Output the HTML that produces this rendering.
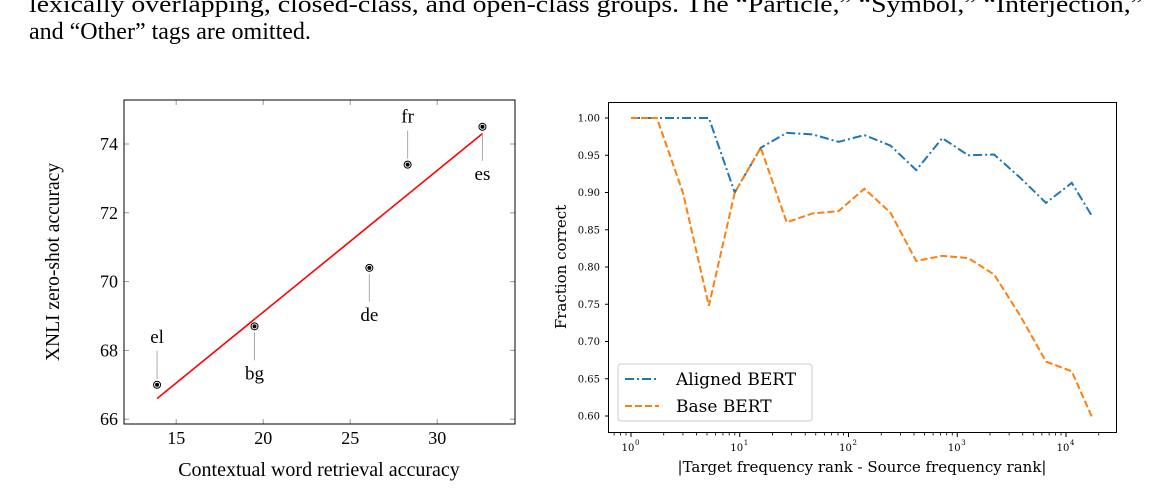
<!DOCTYPE html>
<html><head><meta charset="utf-8"><style>
body{margin:0;background:#fff;width:1149px;height:500px;overflow:hidden}
svg{display:block}
.serif{font-family:"Liberation Serif",serif}
.dv{font-family:"DejaVu Serif",serif}
</style></head><body>
<svg id="s" width="1149" height="500" xmlns="http://www.w3.org/2000/svg">
<text class="serif" x="29" y="12" font-size="24" textLength="1114" lengthAdjust="spacingAndGlyphs">lexically overlapping, closed-class, and open-class groups. The “Particle,” “Symbol,” “Interjection,”</text>
<text class="serif" x="29" y="39" font-size="24">and “Other” tags are omitted.</text>
<g id="left"></g>
<g id="right"></g>
</svg>
<script>
// Left chart data
const langs=['el','bg','de','fr','es'];
const retrieval=[13.9,19.5,26.1,28.3,32.6];
const xnli=[67.0,68.7,70.4,73.4,74.5];
const labelAbove=[true,false,false,true,false];
const fitX=[13.9,32.6];
const fitY=[66.6,74.3];
const leftXTicks=[15,20,25,30];
const leftYTicks=[66,68,70,72,74];
// Right chart data
const ranks=[1,1.73,3,5.2,9,15.6,27,46.8,81,140,243,420,728,1260,2180,3780,6550,11300,17400];
const aligned=[1.0,1.0,1.0,1.0,0.90,0.96,0.98,0.978,0.968,0.977,0.963,0.93,0.973,0.95,0.951,0.92,0.886,0.913,0.868];
const base=[1.0,1.0,0.90,0.748,0.90,0.96,0.86,0.872,0.875,0.905,0.873,0.808,0.815,0.812,0.79,0.735,0.673,0.66,0.598];
const rightYTicks=[0.60,0.65,0.70,0.75,0.80,0.85,0.90,0.95,1.00];
const rightXTicks=[0,1,2,3,4];

const NS='http://www.w3.org/2000/svg';
function mk(p,t,a,txt){const e=document.createElementNS(NS,t);for(const k in a)e.setAttribute(k,a[k]);if(txt!=null)e.textContent=txt;p.appendChild(e);return e;}

// LEFT
const L=document.getElementById('left');
const lx=v=>124+(v-12)*17.4, ly=v=>144+(74-v)*34.4;
leftXTicks.forEach(t=>{
 const g=mk(L,'line',{x1:lx(t),x2:lx(t),y1:100,y2:105,stroke:'#999'});
 
 mk(L,'line',{x1:lx(t),x2:lx(t),y1:424,y2:419,stroke:'#999'});
 const tx=mk(L,'text',{x:lx(t),y:444,'text-anchor':'middle','font-size':18,class:'serif'},t);
 
});
leftYTicks.forEach(t=>{
 mk(L,'line',{x1:124,x2:129,y1:ly(t),y2:ly(t),stroke:'#999'});
 mk(L,'line',{x1:515,x2:510,y1:ly(t),y2:ly(t),stroke:'#999'});
 const tx=mk(L,'text',{x:118,y:ly(t)+6,'text-anchor':'end','font-size':18,class:'serif'},t);
 
});
const fl=mk(L,'line',{x1:lx(fitX[0]),y1:ly(fitY[0]),x2:lx(fitX[1]),y2:ly(fitY[1]),stroke:'#f00','stroke-width':1.6});

langs.forEach((n,i)=>{
 const x=lx(retrieval[i]),y=ly(xnli[i]);
 const up=labelAbove[i];
 mk(L,'line',{x1:x,x2:x,y1:up?y-34:y+6,y2:up?y-6:y+34,stroke:'#aaa','stroke-width':1});
 const c=mk(L,'circle',{cx:x,cy:y,r:3.5,fill:'#fff',stroke:'#000','stroke-width':1});
 
 mk(L,'circle',{cx:x,cy:y,r:2,fill:'#000'});
 const t=mk(L,'text',{x:x,y:up?y-42:y+53,'text-anchor':'middle','font-size':19,class:'serif'},n);
 
});
mk(L,'rect',{x:124,y:100,width:391,height:324,fill:'none',stroke:'#000','stroke-width':1});
let t=mk(L,'text',{x:319,y:476,'text-anchor':'middle','font-size':20,class:'serif'},'Contextual word retrieval accuracy');

t=mk(L,'text',{x:0,y:0,'text-anchor':'middle','font-size':19.5,class:'serif',transform:'translate(59,262) rotate(-90)'},'XNLI zero-shot accuracy');


// RIGHT
const R=document.getElementById('right');
const rx=v=>631+Math.log10(v)*108.75, ry=v=>118+(1-v)*745;
rightYTicks.forEach(v=>{
 mk(R,'line',{x1:605,x2:609,y1:ry(v),y2:ry(v),stroke:'#000'});
 const tx=mk(R,'text',{x:600,y:ry(v)+3.5,'text-anchor':'end','font-size':10,class:'dv'},v.toFixed(2));
 
});
rightXTicks.forEach(d=>{
 const x=rx(Math.pow(10,d));
 mk(R,'line',{x1:x,x2:x,y1:433,y2:437,stroke:'#000'});
 const tx=mk(R,'text',{x:x-3,y:451,'text-anchor':'middle','font-size':10,class:'dv'},'10');
 
 mk(R,'text',{x:x+4,y:445,'font-size':7,class:'dv'},String(d));
});
for(let d=-1;d<5;d++)for(let m=2;m<10;m++){const x=rx(m*Math.pow(10,d));if(x>609&&x<1117)mk(R,'line',{x1:x,x2:x,y1:433,y2:435.5,stroke:'#000','stroke-width':0.8});}
function series(vals,col,dash,name){
 const p=mk(R,'polyline',{points:ranks.map((r,i)=>rx(r)+','+ry(vals[i])).join(' '),fill:'none',stroke:col,'stroke-width':2,'stroke-dasharray':dash});
 
}
series(aligned,'#1f77b4','9 3 2 3','aligned-bert-line');
series(base,'#ff7f0e','7 3','base-bert-line');
mk(R,'rect',{x:608.5,y:102.5,width:508,height:330,fill:'none',stroke:'#000','stroke-width':1});
const lg=mk(R,'g',{});

mk(lg,'rect',{x:618,y:364,width:194,height:57,rx:3,fill:'#fff','fill-opacity':0.8,stroke:'#ccc'});
mk(lg,'line',{x1:625,x2:659,y1:379,y2:379,stroke:'#1f77b4','stroke-width':2,'stroke-dasharray':'9 3 2 3'});
mk(lg,'line',{x1:625,x2:659,y1:406,y2:406,stroke:'#ff7f0e','stroke-width':2,'stroke-dasharray':'7 3'});
t=mk(lg,'text',{x:676,y:385,'font-size':17,class:'dv'},'Aligned BERT');

t=mk(lg,'text',{x:676,y:412,'font-size':17,class:'dv'},'Base BERT');

t=mk(R,'text',{x:862,y:472,'text-anchor':'middle','font-size':15,class:'dv'},'|Target frequency rank - Source frequency rank|');

t=mk(R,'text',{x:0,y:0,'text-anchor':'middle','font-size':15,class:'dv',transform:'translate(566,267) rotate(-90)'},'Fraction correct');

</script>
</body></html>
